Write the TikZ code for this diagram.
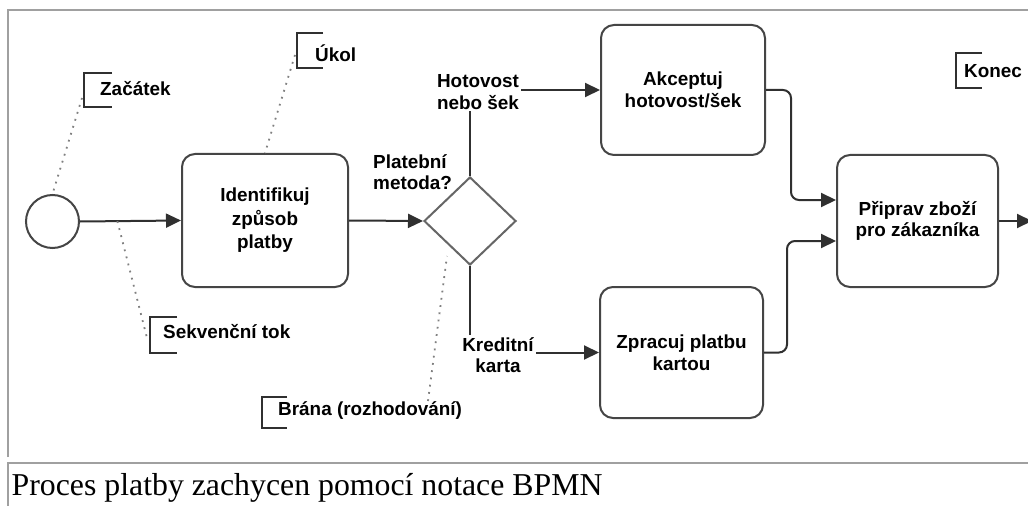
\documentclass[tikz,border=0pt]{standalone}
\usepackage{fontspec}
\setmainfont{Liberation Serif}
\newfontfamily\diagfont{Liberation Sans}
\usetikzlibrary{arrows.meta,shapes.geometric,calc}
\definecolor{framegray}{HTML}{A0A0A0}
\definecolor{linegray}{HTML}{303030}
\definecolor{boxgray}{HTML}{454545}
\definecolor{gategray}{HTML}{666666}
\definecolor{dotgray}{HTML}{808080}
\begin{document}
\begin{tikzpicture}[x=1pt,y=-1pt,
  every node/.style={font=\diagfont\bfseries\fontsize{18.9}{21.5}\selectfont},
  task/.style={draw=boxgray, line width=2pt, rounded corners=13pt, align=center, inner sep=0pt},
  startev/.style={circle, draw=boxgray, line width=2pt, minimum size=53pt, inner sep=0pt},
  gateway/.style={diamond, draw=gategray, line width=2pt, minimum width=92pt, minimum height=88pt, inner sep=0pt},
  flow/.style={draw=linegray, line width=2pt, -{Triangle[length=15pt,width=14pt]}},
  flowlabel/.style={fill=white, align=center, inner sep=2pt},
  note/.style={anchor=west, inner sep=0pt},
  bracket/.style={draw=linegray, line width=2pt},
  assoc/.style={draw=dotgray, line width=1.8pt, dash pattern=on 1.8pt off 5.5pt},
  frame/.style={draw=framegray, line width=2.5pt}
]
\fill[white] (0,0) rectangle (1028,508);
\clip (0,0) rectangle (1028,508);

% page frame and caption box
\draw[frame] (8,457) -- (8,10) -- (1032,10);
\draw[frame] (1032,463) -- (8,463) -- (8,506);
\node[anchor=base west, inner sep=0pt, font=\rmfamily\fontsize{31.8}{36}\selectfont] (cap) at (11.5,495)
  {Proces platby zachycen pomocí notace BPMN};

% process elements
\node[startev] (start) at (52.5,221.5) {};
\node[task, minimum width=166pt, minimum height=133pt] (t1) at (265,220.5) {Identifikuj\\[2pt]způsob\\[2pt]platby};
\node[gateway] (gw) at (470,221) {};
\node[task, minimum width=164pt, minimum height=130pt] (t2) at (683,90) {Akceptuj\\hotovost/šek};
\node[task, minimum width=163pt, minimum height=131pt] (t3) at (681.5,352.5) {Zpracuj platbu\\kartou};
\node[task, minimum width=161pt, minimum height=132pt] (t4) at (917.5,221) {Připrav zboží\\pro zákazníka};
\coordinate (out) at (1032,221);

% sequence flows
\draw[flow] (start.east) -- (t1.west);
\draw[flow] (t1.east) -- (gw.west);
\draw[flow] (gw.north) |- (t2.west);
\draw[flow] (gw.south) |- (t3.west);
\draw[flow, rounded corners=8pt] (t2.east) -- ++(25,0) |- ([yshift=21pt]t4.west);
\draw[flow, rounded corners=8pt] (t3.east) -- ++(23,0) |- ([yshift=-20pt]t4.west);
\draw[flow] (t4.east) -- (out);

% gateway labels
\node[anchor=west, align=left, inner sep=0pt] (q) at (373,172) {Platební\\metoda?};
\node[flowlabel] (lcash) at (478,92) {Hotovost\\nebo šek};
\node[flowlabel] (lcard) at (498,355) {Kreditní\\karta};

% text annotations
\node[note] (nStart) at (100,89) {Začátek};
\node[note] (nTask) at (315,53) {Úkol};
\node[note] (nFlow) at (163,332) {Sekvenční tok};
\node[note] (nGate) at (278,411) {Brána (rozhodování)};
\node[note] (nEnd) at (964,71) {Konec};

\draw[bracket] ($(nStart.west)+(12,-16)$) -- ++(-28,0) -- ++(0,34) -- ++(28,0);
\draw[bracket] ($(nTask.west)+(8,-20)$) -- ++(-26,0) -- ++(0,35) -- ++(26,0);
\draw[bracket] ($(nFlow.west)+(14,-15)$) -- ++(-27,0) -- ++(0,36) -- ++(27,0);
\draw[bracket] ($(nGate.west)+(9,-14)$) -- ++(-25,0) -- ++(0,31) -- ++(25,0);
\draw[bracket] ($(nEnd.west)+(18,-18)$) -- ++(-26,0) -- ++(0,35) -- ++(26,0);

% associations
\coordinate (sf) at ($(start.east)!0.37!(t1.west)$);
\draw[assoc] ($(nStart.west)+(-18,9)$) -- (start.north);
\draw[assoc] ($(nTask.west)+(-20,2)$) -- (t1.north);
\draw[assoc] (sf) -- ($(nFlow.west)+(-16,6)$);
\draw[assoc] ($(nGate.west)+(150,-10)$) -- ($(gw.south)+(-23,-10)$);
\end{tikzpicture}
\end{document}
